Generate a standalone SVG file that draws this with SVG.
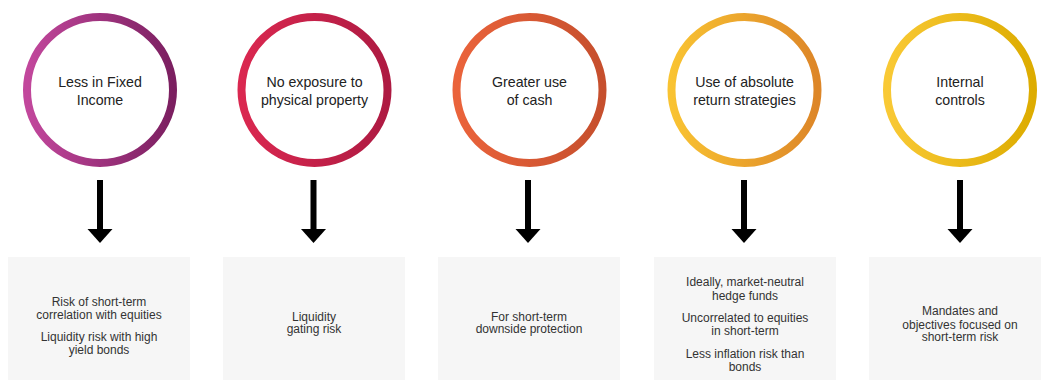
<svg xmlns="http://www.w3.org/2000/svg" width="1041" height="380" viewBox="0 0 1041 380">
<style>
.ring{fill:#ffffff;stroke-width:8}
.ct{font-family:"Liberation Sans",Arial,sans-serif;font-size:14.2px;fill:#222222;text-anchor:middle}
.box{fill:#f6f6f6}
.bt{font-family:"Liberation Sans",Arial,sans-serif;font-size:12px;fill:#333333;text-anchor:middle}
.shaft{fill:#000000}
</style>
<defs>
<linearGradient id="g1" x1="0" y1="0" x2="1" y2="0"><stop offset="0" stop-color="#c2479c"/><stop offset="1" stop-color="#7b1f60"/></linearGradient>
<linearGradient id="g2" x1="0" y1="0" x2="1" y2="0"><stop offset="0" stop-color="#da2850"/><stop offset="1" stop-color="#ae1a42"/></linearGradient>
<linearGradient id="g3" x1="0" y1="0" x2="1" y2="0"><stop offset="0" stop-color="#ea633b"/><stop offset="1" stop-color="#c64f2d"/></linearGradient>
<linearGradient id="g4" x1="0" y1="0" x2="1" y2="0"><stop offset="0" stop-color="#f9c332"/><stop offset="1" stop-color="#dd8628"/></linearGradient>
<linearGradient id="g5" x1="0" y1="0" x2="1" y2="0"><stop offset="0" stop-color="#f9c935"/><stop offset="1" stop-color="#ddac00"/></linearGradient>
</defs>

<g id="circle1"><circle class="ring" cx="100" cy="90" r="73" stroke="url(#g1)"/>
<text class="ct" x="100" y="87">Less in Fixed</text><text class="ct" x="100" y="105">Income</text></g>
<g id="circle2"><circle class="ring" cx="314.5" cy="90" r="73" stroke="url(#g2)"/>
<text class="ct" x="314.5" y="87">No exposure to</text><text class="ct" x="314.5" y="105">physical property</text></g>
<g id="circle3"><circle class="ring" cx="529.5" cy="90" r="73" stroke="url(#g3)"/>
<text class="ct" x="529.5" y="87">Greater use</text><text class="ct" x="529.5" y="105">of cash</text></g>
<g id="circle4"><circle class="ring" cx="744.5" cy="90" r="73" stroke="url(#g4)"/>
<text class="ct" x="744.5" y="87">Use of absolute</text><text class="ct" x="744.5" y="105">return strategies</text></g>
<g id="circle5"><circle class="ring" cx="960" cy="90" r="73" stroke="url(#g5)"/>
<text class="ct" x="960" y="87">Internal</text><text class="ct" x="960" y="105">controls</text></g>

<g id="connectors">
<rect class="shaft" x="97" y="180" width="6" height="50"/><polygon class="shaft" points="87.5,229 112.5,229 100,243"/>
<rect class="shaft" x="310.5" y="180" width="6" height="50"/><polygon class="shaft" points="301,229 326,229 313.5,243"/>
<rect class="shaft" x="525" y="180" width="6" height="50"/><polygon class="shaft" points="515.5,229 540.5,229 528,243"/>
<rect class="shaft" x="741" y="180" width="6" height="50"/><polygon class="shaft" points="731.5,229 756.5,229 744,243"/>
<rect class="shaft" x="957" y="180" width="6" height="50"/><polygon class="shaft" points="947.5,229 972.5,229 960,243"/>
</g>

<g id="box1"><rect class="box" x="8" y="257" width="182" height="123"/>
<text class="bt" x="99" y="305.5">Risk of short-term</text>
<text class="bt" x="99" y="318.5">correlation with equities</text>
<text class="bt" x="99" y="340.5">Liquidity risk with high</text>
<text class="bt" x="99" y="353.5">yield bonds</text></g>
<g id="box2"><rect class="box" x="223" y="257" width="182" height="123"/>
<text class="bt" x="314" y="321">Liquidity</text>
<text class="bt" x="314" y="333">gating risk</text></g>
<g id="box3"><rect class="box" x="438" y="257" width="182" height="123"/>
<text class="bt" x="529" y="321">For short-term</text>
<text class="bt" x="529" y="333">downside protection</text></g>
<g id="box4"><rect class="box" x="654" y="257" width="182" height="123"/>
<text class="bt" x="745" y="286">Ideally, market-neutral</text>
<text class="bt" x="745" y="299.5">hedge funds</text>
<text class="bt" x="745" y="321.5">Uncorrelated to equities</text>
<text class="bt" x="745" y="335">in short-term</text>
<text class="bt" x="745" y="357.5">Less inflation risk than</text>
<text class="bt" x="745" y="370.5">bonds</text></g>
<g id="box5"><rect class="box" x="869" y="257" width="182" height="123"/>
<text class="bt" x="960" y="315">Mandates and</text>
<text class="bt" x="960" y="328.5">objectives focused on</text>
<text class="bt" x="960" y="341">short-term risk</text></g>
</svg>
